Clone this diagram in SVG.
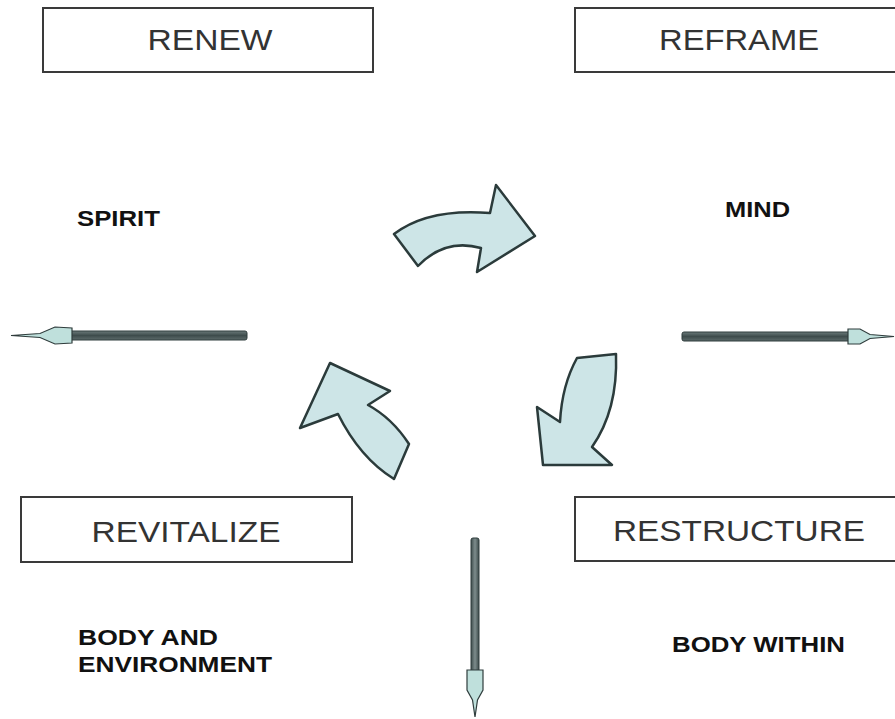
<svg xmlns="http://www.w3.org/2000/svg" width="895" height="719" viewBox="0 0 895 719">
<style>
.box rect{fill:#fff;stroke:#3a3a3a;stroke-width:2}
.box text{font-family:"Liberation Sans",Arial,sans-serif;font-size:30px;fill:#333;text-anchor:middle}
.lbl{font-family:"Liberation Sans",Arial,sans-serif;font-size:22px;font-weight:bold;fill:#111}
.curved{fill:#cde5e7;stroke:#2b3b3b;stroke-width:2.5;stroke-linejoin:round}
.shaft{fill:url(#sg);stroke:#2f3c3c;stroke-width:1}
.head{fill:#bfe0dc;stroke:#2f3c3c;stroke-width:1.2}
</style>
<defs>
<linearGradient id="sg" x1="0" y1="0" x2="0" y2="1">
<stop offset="0" stop-color="#6b7a7a"/><stop offset="0.5" stop-color="#3e4c4c"/><stop offset="1" stop-color="#5d6b6b"/>
</linearGradient>
<linearGradient id="sgv" x1="0" y1="0" x2="1" y2="0">
<stop offset="0" stop-color="#3e4c4c"/><stop offset="0.5" stop-color="#7d8c8c"/><stop offset="1" stop-color="#3e4c4c"/>
</linearGradient>
</defs>
<g id="renew" class="box"><rect x="43" y="8" width="330" height="64"/><text x="210" y="50" textLength="125" lengthAdjust="spacingAndGlyphs">RENEW</text></g>
<g id="reframe" class="box"><rect x="575" y="8" width="330" height="64"/><text x="739" y="50" textLength="160" lengthAdjust="spacingAndGlyphs">REFRAME</text></g>
<g id="revitalize" class="box"><rect x="21" y="497" width="331" height="65"/><text x="186" y="542" textLength="189" lengthAdjust="spacingAndGlyphs">REVITALIZE</text></g>
<g id="restructure" class="box"><rect x="575" y="497" width="330" height="64"/><text x="739" y="541" textLength="252" lengthAdjust="spacingAndGlyphs">RESTRUCTURE</text></g>
<g id="spirit"><text class="lbl" x="77" y="226" textLength="83" lengthAdjust="spacingAndGlyphs">SPIRIT</text></g>
<g id="mind"><text class="lbl" x="725" y="217" textLength="65" lengthAdjust="spacingAndGlyphs">MIND</text></g>
<g id="body-env"><text class="lbl" x="78" y="645" textLength="140" lengthAdjust="spacingAndGlyphs">BODY AND</text><text class="lbl" x="78" y="672" textLength="194" lengthAdjust="spacingAndGlyphs">ENVIRONMENT</text></g>
<g id="body-within"><text class="lbl" x="672" y="652" textLength="173" lengthAdjust="spacingAndGlyphs">BODY WITHIN</text></g>
<g id="connectors">
<path class="curved" d="M394,234 Q428,208 490,213 L496,185 L535,236 L477,272 L481,248 Q445,238 418,266 Z"/>
<path class="curved" d="M577,358 L616,354 Q618,410 592,447 L612,465 L543,465 L537,407 L560,422 Q562,385 577,358 Z"/>
<path class="curved" d="M409,444 L394,479 Q360,458 338,414 L300,428 L330,363 L390,391 L368,405 Q392,418 409,444 Z"/>
<g id="arrow-left"><rect class="shaft" x="68" y="331" width="179" height="9" rx="2"/><path class="head" d="M11,335.5 L40,333.5 L55,327 L72,328 L72,343 L55,344 L40,337.5 Z"/></g>
<g id="arrow-right"><rect class="shaft" x="682" y="332" width="172" height="9" rx="2"/><path class="head" d="M894,336.5 L870,334.5 L860,329 L848,329 L848,344 L860,344 L870,338.5 Z"/></g>
<g id="arrow-down"><rect x="471" y="538" width="8" height="136" rx="2" fill="url(#sgv)" stroke="#2f3c3c"/><path class="head" d="M475,717 L472.5,700 L467,690 L467,670 L483,670 L483,690 L477.5,700 Z"/></g>
</g>
</svg>
